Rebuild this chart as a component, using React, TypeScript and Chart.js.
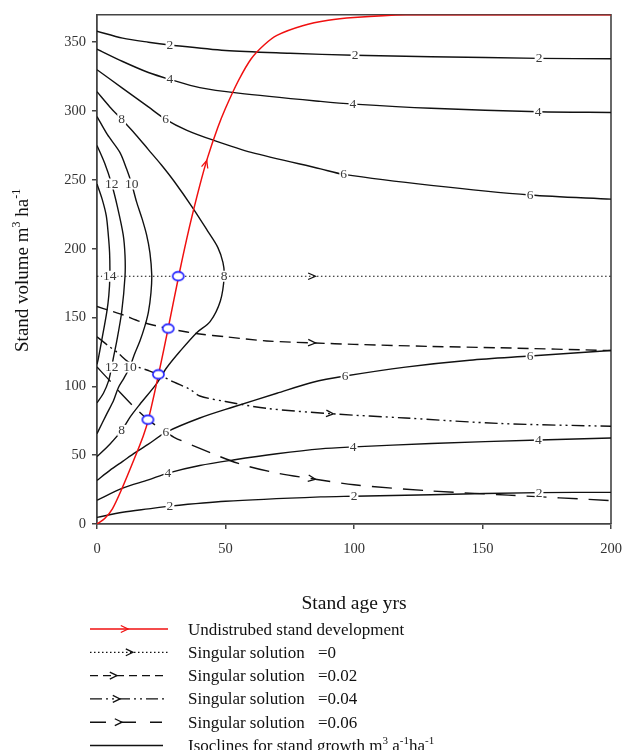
import React, { useEffect, useRef } from "react";
import { Chart, registerables } from "chart.js";

Chart.register(...registerables);

// ---- axes ----
const xTicks = [0, 50, 100, 150, 200];
const yTicks = [0, 50, 100, 150, 200, 250, 300, 350];

// ---- undisturbed stand development (red) ----
const redX = [0, 3, 6, 10, 14, 18, 20, 24, 28, 32, 36, 40, 43, 47, 50, 55, 60, 65, 70, 80, 90, 100, 120, 150, 200];
const redY = [0, 4, 11, 27, 45, 64, 76, 109, 145, 182, 216, 246, 266, 288, 302, 322, 338, 348, 355, 362, 366, 368, 370, 370, 370];

// ---- equilibrium points (blue rings) ----
const circleX = [19.8, 23.9, 27.7, 31.6];
const circleY = [75.8, 108.7, 142, 180];

// ---- singular solutions ----
const sing0X = [0, 200];
const sing0Y = [180, 180];
const sing002X = [0, 5, 10, 17, 23, 27.7, 35, 40, 50, 66, 85, 100, 130, 157, 200];
const sing002Y = [158, 155, 152, 147, 144, 142, 139.5, 138, 136, 133, 131.5, 130.5, 129, 128, 126];
const sing004X = [0, 4, 8, 12, 16, 20, 23.9, 30, 36, 40, 50, 66, 92, 120, 157, 200];
const sing004Y = [136, 130, 124.5, 118, 114, 111.5, 108.7, 103, 98, 93, 89, 84, 80, 77, 73, 71];
const sing006X = [0, 5, 9, 15, 19.8, 25, 30, 40, 55, 70, 85, 100, 130, 160, 200];
const sing006Y = [114, 104, 95.5, 84, 75.8, 69, 63, 55, 44, 37, 32.5, 28.5, 24, 21, 17];

// ---- isoclines for stand growth ----
const iso2UpX = [0, 10, 20, 28.4, 50, 75, 100, 130, 172, 200];
const iso2UpY = [358, 353, 350, 348, 344, 342, 340.5, 339.5, 338.3, 338];
const iso4UpX = [0, 10, 20, 28.4, 40, 55, 87, 100, 130, 172, 200];
const iso4UpY = [345, 336, 328, 323, 317, 313, 307, 305, 302, 299.5, 299];
const iso6UpX = [0, 10, 20, 26.7, 35, 45, 60, 87, 96, 130, 168.5, 200];
const iso6UpY = [330, 316.5, 303, 294, 286, 279, 270, 258, 254, 246, 239, 236];
const iso8X = [0, 5, 9.6, 15, 20, 25, 30, 37.5, 43, 47, 49, 49.5, 48, 44, 38.8, 32.3, 27.1, 23.2, 16.7, 13, 9.6, 5, 0];
const iso8Y = [314, 303, 294, 283, 272, 261, 249, 229, 213, 201, 190, 180, 162, 147, 139, 125.5, 113.5, 102, 87, 78, 68, 58, 49];
const iso10X = [0, 4, 8.9, 11.5, 13.5, 15.4, 17.5, 19.3, 20.6, 21.3, 21, 20, 18.5, 16.7, 14.5, 12.8, 10.5, 8.3, 6.4, 3.8, 0];
const iso10Y = [296, 283, 270, 258, 247, 234, 222, 210, 197, 181, 168, 154, 143, 133, 123, 114, 106, 99, 89.5, 80, 65.6];
const iso12X = [0, 3, 5.7, 8, 10.2, 10.9, 10.9, 9.6, 7.7, 6.3, 5.7, 4.5, 2.5, 0];
const iso12Y = [275, 262, 247, 230, 210, 195, 180, 154, 133, 120, 114, 104, 95, 88];
const iso14X = [0, 2, 3.6, 4.4, 4.9, 5, 4.6, 3.8, 1.8, 0.5, 0];
const iso14Y = [247, 236, 224, 210, 197, 180, 166, 154, 133, 120, 116];
const iso6LoX = [0, 5, 10, 15, 20, 26.8, 40, 53, 70, 84, 96.5, 120, 145, 168.5, 200];
const iso6LoY = [31.7, 39, 45.5, 52, 58, 66.6, 77, 85, 95, 103, 107.5, 114, 119, 122, 126];
const iso4LoX = [0, 10, 20, 27.6, 40, 53, 70, 87, 100, 130, 172, 200];
const iso4LoY = [17.3, 26, 32, 37, 42.5, 46.5, 51, 54.6, 56, 58.5, 61, 62.5];
const iso2LoX = [0, 10, 20, 28.4, 50, 87, 100, 130, 172, 200];
const iso2LoY = [4.8, 8.5, 11, 13, 16.5, 19.7, 20.2, 21.3, 22.8, 23];

// ---- contour labels ----
const labelText = ["2", "2", "2", "4", "4", "4", "6", "6", "6", "8", "8", "8", "12", "10", "14", "12", "10", "6", "6", "6", "4", "4", "4", "2", "2", "2"];
const labelX = [28.4, 100.4, 172, 28.4, 99.6, 171.6, 26.7, 96, 168.5, 9.6, 49.5, 9.6, 5.7, 13.5, 5, 5.7, 12.8, 26.8, 96.5, 168.5, 27.6, 99.7, 171.7, 28.4, 100, 172];
const labelY = [348, 340.5, 338.3, 323, 305, 299.5, 294, 254, 239, 294, 180, 68, 247, 247, 180, 114, 114, 66.6, 107.5, 122, 37, 55.8, 61, 13, 20.2, 22.8];

// ---- direction arrows (x position along each curve) ----
const arrowAt = [42.7, 85, 85, 92, 85];

// ---- legend ----
const legendLabels = ["Undistrubed stand development", "Singular solution", "Singular solution", "Singular solution", "Singular solution", "Isoclines for stand growth m"];
const legendValues = ["", "=0", "=0.02", "=0.04", "=0.06", ""];

const SERIF = "'Liberation Serif', 'Times New Roman', serif";
const RED = "#f01010";

function interp(xs: number[], ys: number[], x: number) {
  for (let i = 0; i < xs.length - 1; i++) {
    if (x >= xs[i] && x <= xs[i + 1]) {
      const t = (x - xs[i]) / (xs[i + 1] - xs[i] || 1);
      return ys[i] + t * (ys[i + 1] - ys[i]);
    }
  }
  return ys[ys.length - 1];
}

function chevron(ctx: CanvasRenderingContext2D, x: number, y: number, ang: number, color: string, len = 8, spread = 0.42) {
  ctx.save();
  ctx.strokeStyle = color;
  ctx.lineWidth = 1.3;
  ctx.setLineDash([]);
  ctx.beginPath();
  ctx.moveTo(x - len * Math.cos(ang - spread), y - len * Math.sin(ang - spread));
  ctx.lineTo(x, y);
  ctx.lineTo(x - len * Math.cos(ang + spread), y - len * Math.sin(ang + spread));
  ctx.stroke();
  ctx.restore();
}

type Part = [string, boolean];
function drawParts(ctx: CanvasRenderingContext2D, parts: Part[], x: number, y: number, size: number, align: "left" | "center") {
  const sup = Math.round(size * 0.62);
  let w = 0;
  const widths = parts.map(([t, s]) => {
    ctx.font = `${s ? sup : size}px ${SERIF}`;
    const m = ctx.measureText(t).width;
    w += m;
    return m;
  });
  let cx = align === "center" ? x - w / 2 : x;
  ctx.textAlign = "left";
  ctx.textBaseline = "alphabetic";
  parts.forEach(([t, s], i) => {
    ctx.font = `${s ? sup : size}px ${SERIF}`;
    ctx.fillText(t, cx, s ? y - size * 0.4 : y);
    cx += widths[i];
  });
}

export default function App() {
  const ref = useRef<HTMLCanvasElement>(null);

  useEffect(() => {
    const canvas = ref.current!;
    const pts = (xs: number[], ys: number[]) => xs.map((x, i) => ({ x, y: ys[i] }));

    const ring = document.createElement("canvas");
    ring.width = 15;
    ring.height = 12;
    const rc = ring.getContext("2d")!;
    rc.beginPath();
    rc.ellipse(7.5, 6, 5.6, 4.4, 0, 0, Math.PI * 2);
    rc.fillStyle = "#ffffff";
    rc.fill();
    rc.strokeStyle = "#1c1cff";
    rc.lineWidth = 1.6;
    rc.stroke();

    const iso = (xs: number[], ys: number[]) => ({
      data: pts(xs, ys),
      showLine: true,
      borderColor: "#111",
      borderWidth: 1.4,
      pointRadius: 0,
      tension: 0.3,
      fill: false,
      order: 3,
    });

    const singStyles = [
      { xs: sing0X, ys: sing0Y, dash: [1.5, 2.5], width: 1.2 },
      { xs: sing002X, ys: sing002Y, dash: [11, 6], width: 1.4 },
      { xs: sing004X, ys: sing004Y, dash: [13, 4, 2, 4, 2, 4], width: 1.4 },
      { xs: sing006X, ys: sing006Y, dash: [20, 11], width: 1.4 },
    ];

    const datasets: any[] = [
      iso(iso2UpX, iso2UpY),
      iso(iso4UpX, iso4UpY),
      iso(iso6UpX, iso6UpY),
      iso(iso8X, iso8Y),
      iso(iso10X, iso10Y),
      iso(iso12X, iso12Y),
      iso(iso14X, iso14Y),
      iso(iso6LoX, iso6LoY),
      iso(iso4LoX, iso4LoY),
      iso(iso2LoX, iso2LoY),
      ...singStyles.map((s) => ({
        data: pts(s.xs, s.ys),
        showLine: true,
        borderColor: "#111",
        borderWidth: s.width,
        borderDash: s.dash,
        pointRadius: 0,
        tension: 0.3,
        fill: false,
        order: 2,
      })),
      {
        data: pts(redX, redY),
        showLine: true,
        borderColor: RED,
        borderWidth: 1.5,
        pointRadius: 0,
        tension: 0.3,
        fill: false,
        order: 1,
      },
      {
        data: pts(circleX, circleY),
        showLine: false,
        pointStyle: ring,
        pointRadius: 6,
        order: 0,
      },
    ];

    const arrowSeries = [
      { xs: redX, ys: redY, color: RED },
      { xs: sing0X, ys: sing0Y, color: "#111" },
      { xs: sing002X, ys: sing002Y, color: "#111" },
      { xs: sing004X, ys: sing004Y, color: "#111" },
      { xs: sing006X, ys: sing006Y, color: "#111" },
    ];

    const overlay = {
      id: "overlay",
      beforeDatasetsDraw(chart: any) {
        const { ctx, chartArea: a } = chart;
        ctx.save();
        ctx.strokeStyle = "#444";
        ctx.lineWidth = 1.6;
        ctx.beginPath();
        ctx.moveTo(a.left, a.top);
        ctx.lineTo(a.right, a.top);
        ctx.lineTo(a.right, a.bottom);
        ctx.stroke();
        ctx.restore();
      },
      afterDatasetsDraw(chart: any) {
        const { ctx } = chart;
        const sx = chart.scales.x;
        const sy = chart.scales.y;
        ctx.save();
        ctx.font = `13.5px ${SERIF}`;
        ctx.textAlign = "center";
        ctx.textBaseline = "middle";
        labelText.forEach((t, i) => {
          const px = sx.getPixelForValue(labelX[i]);
          const py = sy.getPixelForValue(labelY[i]);
          const w = ctx.measureText(t).width + 2;
          ctx.fillStyle = "#fff";
          ctx.fillRect(px - w / 2, py - 5.5, w, 11);
          ctx.fillStyle = "#3a3a3a";
          ctx.fillText(t, px, py + 0.5);
        });
        arrowSeries.forEach((s, i) => {
          const x = arrowAt[i];
          const p1x = sx.getPixelForValue(x - 1);
          const p1y = sy.getPixelForValue(interp(s.xs, s.ys, x - 1));
          const p2x = sx.getPixelForValue(x + 1);
          const p2y = sy.getPixelForValue(interp(s.xs, s.ys, x + 1));
          const ang = Math.atan2(p2y - p1y, p2x - p1x);
          chevron(ctx, sx.getPixelForValue(x), sy.getPixelForValue(interp(s.xs, s.ys, x)), ang, s.color);
        });
        ctx.restore();
      },
      afterDraw(chart: any) {
        const { ctx, chartArea: a } = chart;
        ctx.save();
        ctx.fillStyle = "#111";
        // x title
        drawParts(ctx, [["Stand age yrs", false]], (a.left + a.right) / 2, 609, 19.5, "center");
        // y title
        ctx.save();
        ctx.translate(28, (a.top + a.bottom) / 2 + 1);
        ctx.rotate(-Math.PI / 2);
        drawParts(ctx, [["Stand volume m", false], ["3", true], [" ha", false], ["-1", true]], 0, 0, 19, "center");
        ctx.restore();

        // legend
        const rowStyles = [
          { color: RED, dash: [] as number[], arrow: 128, end: 168, width: 1.5 },
          { color: "#111", dash: [1.5, 2.5], arrow: 133, end: 168, width: 1.2 },
          { color: "#111", dash: [8, 5], arrow: 117, end: 168, width: 1.4 },
          { color: "#111", dash: [12, 4, 2, 4, 2, 4], arrow: 120, end: 168, width: 1.4 },
          { color: "#111", dash: [16, 14], arrow: 122, end: 162, width: 1.4 },
          { color: "#111", dash: [] as number[], arrow: 0, end: 163, width: 1.4 },
        ];
        rowStyles.forEach((r, i) => {
          const cy = 629 + i * 23.3;
          ctx.save();
          ctx.strokeStyle = r.color;
          ctx.lineWidth = r.width;
          ctx.setLineDash(r.dash);
          ctx.beginPath();
          ctx.moveTo(90, cy);
          ctx.lineTo(r.end, cy);
          ctx.stroke();
          ctx.restore();
          if (r.arrow) chevron(ctx, r.arrow, cy, 0, r.color, 8, 0.45);
          ctx.fillStyle = "#111";
          if (i === 5) {
            drawParts(ctx, [[legendLabels[i], false], ["3", true], [" a", false], ["-1", true], ["ha", false], ["-1", true]], 188, cy + 5.5, 17, "left");
          } else {
            drawParts(ctx, [[legendLabels[i], false]], 188, cy + 5.5, 17, "left");
            if (legendValues[i]) drawParts(ctx, [[legendValues[i], false]], 318, cy + 5.5, 17, "left");
          }
        });
        ctx.restore();
      },
    };

    const tickFont = { family: SERIF, size: 14.5 };

    const chart = new Chart(canvas, {
      type: "scatter",
      data: { datasets },
      options: {
        animation: false,
        responsive: false,
        devicePixelRatio: 1,
        layout: { padding: { left: 0, right: 24, top: 11, bottom: 186 } },
        plugins: { legend: { display: false }, tooltip: { enabled: false } },
        scales: {
          x: {
            type: "linear",
            min: 0,
            max: 200,
            afterBuildTicks: (s: any) => {
              s.ticks = xTicks.map((v) => ({ value: v }));
            },
            afterFit: (s: any) => {
              s.height = 40;
            },
            grid: { drawOnChartArea: false, drawTicks: true, tickLength: 5, color: "#444", lineWidth: 1.5 },
            border: { display: true, color: "#444", width: 1.8 },
            ticks: { font: tickFont, color: "#333", padding: 11, maxRotation: 0 },
          },
          y: {
            type: "linear",
            min: 0,
            max: 370,
            afterBuildTicks: (s: any) => {
              s.ticks = yTicks.map((v) => ({ value: v }));
            },
            afterFit: (s: any) => {
              s.width = 97;
            },
            grid: { drawOnChartArea: false, drawTicks: true, tickLength: 5, color: "#444", lineWidth: 1.5 },
            border: { display: true, color: "#444", width: 1.8 },
            ticks: { font: tickFont, color: "#333", padding: 6 },
          },
        },
      } as any,
      plugins: [overlay],
    });
    return () => chart.destroy();
  }, []);

  return (
    <div style={{ position: "fixed", left: 0, top: 0, width: 635, height: 750, background: "#fff" }}>
      <canvas ref={ref} width={635} height={750} style={{ width: 635, height: 750, display: "block" }} />
    </div>
  );
}
